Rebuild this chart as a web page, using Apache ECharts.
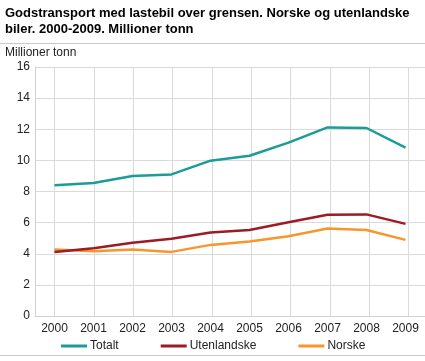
<!DOCTYPE html>
<html><head><meta charset="utf-8">
<script src="https://cdn.jsdelivr.net/npm/echarts@6/dist/echarts.min.js"></script>
<style>html,body{margin:0;padding:0;background:#fff}#c{width:425px;height:361px}</style>
</head><body><div id="c"></div>
<script>
const years = ['2000','2001','2002','2003','2004','2005','2006','2007','2008','2009'];
const totalt = [8.40, 8.55, 9.00, 9.10, 9.98, 10.30, 11.14, 12.12, 12.08, 10.82];
const utenlandske = [4.12, 4.35, 4.70, 4.97, 5.37, 5.53, 6.02, 6.50, 6.53, 5.92];
const norske = [4.27, 4.16, 4.27, 4.12, 4.57, 4.78, 5.12, 5.62, 5.53, 4.89];
const yTicks = [0, 2, 4, 6, 8, 10, 12, 14, 16];
const titleText = 'Godstransport med lastebil over grensen. Norske og utenlandske\nbiler. 2000-2009. Millioner tonn';
const unitText = 'Millioner tonn';

const chart = echarts.init(document.getElementById('c'), null, {renderer: 'canvas'});
const font = 'Arial, "Liberation Sans", sans-serif';
const grid0 = {left: 35, top: 67, width: 393, height: 249};
const step = 393 / years.length;
chart.setOption({
  animation: false,
  textStyle: {fontFamily: font},
  title: {
    text: titleText, left: 0, top: 0,
    textStyle: {fontSize: 13, fontWeight: 'bold', color: '#000', lineHeight: 16, fontFamily: font}
  },
  graphic: [
    {type: 'line', shape: {x1: 0, y1: 43.5, x2: 425, y2: 43.5}, style: {stroke: '#c8c8c8', lineWidth: 1}},
    {type: 'line', shape: {x1: 0, y1: 355.5, x2: 425, y2: 355.5}, style: {stroke: '#c8c8c8', lineWidth: 1}},
    {type: 'text', left: 5, top: 47, style: {text: unitText, font: '12px ' + font, fill: '#222'}}
  ],
  legend: {
    bottom: 4, left: 56, itemWidth: 26, itemHeight: 3, itemGap: 42,
    icon: 'rect',
    textStyle: {fontSize: 12, color: '#222', padding: [0, 0, 0, -2]},
    data: ['Totalt', 'Utenlandske', 'Norske']
  },
  grid: [
    grid0,
    {left: 35 + step / 2, top: 67, width: 393 - step, height: 249}
  ],
  xAxis: [
    {type: 'category', gridIndex: 0, data: years, boundaryGap: true,
     axisLine: {show: true, lineStyle: {color: '#d0d0d0'}},
     axisTick: {show: false},
     axisLabel: {color: '#222', fontSize: 12, margin: 7},
     splitLine: {show: false}},
    {type: 'category', gridIndex: 1, data: years, boundaryGap: false,
     axisLine: {show: false}, axisTick: {show: false}, axisLabel: {show: false},
     splitLine: {show: true, lineStyle: {color: '#dadada', width: 1}}}
  ],
  yAxis: [
    {type: 'value', gridIndex: 0, min: yTicks[0], max: yTicks[yTicks.length - 1], interval: 2,
     axisLine: {show: true, lineStyle: {color: '#d0d0d0'}},
     axisTick: {show: false},
     axisLabel: {color: '#222', fontSize: 12, margin: 5},
     splitLine: {show: true, lineStyle: {color: '#dadada', width: 1}}},
    {type: 'value', gridIndex: 1, min: 0, max: 16, interval: 2, show: false, splitLine: {show: false}}
  ],
  series: [
    {name: 'Totalt', type: 'line', data: totalt, xAxisIndex: 0, yAxisIndex: 0, symbol: 'none', z: 5,
     itemStyle: {color: '#1b9c97'}, lineStyle: {color: '#1b9c97', width: 2.5}},
    {name: 'Utenlandske', type: 'line', data: utenlandske, xAxisIndex: 0, yAxisIndex: 0, symbol: 'none', z: 5,
     itemStyle: {color: '#9c1b25'}, lineStyle: {color: '#9c1b25', width: 2.5}},
    {name: 'Norske', type: 'line', data: norske, xAxisIndex: 0, yAxisIndex: 0, symbol: 'none', z: 4,
     itemStyle: {color: '#f7962b'}, lineStyle: {color: '#f7962b', width: 2.5}}
  ]
});
</script></body></html>
